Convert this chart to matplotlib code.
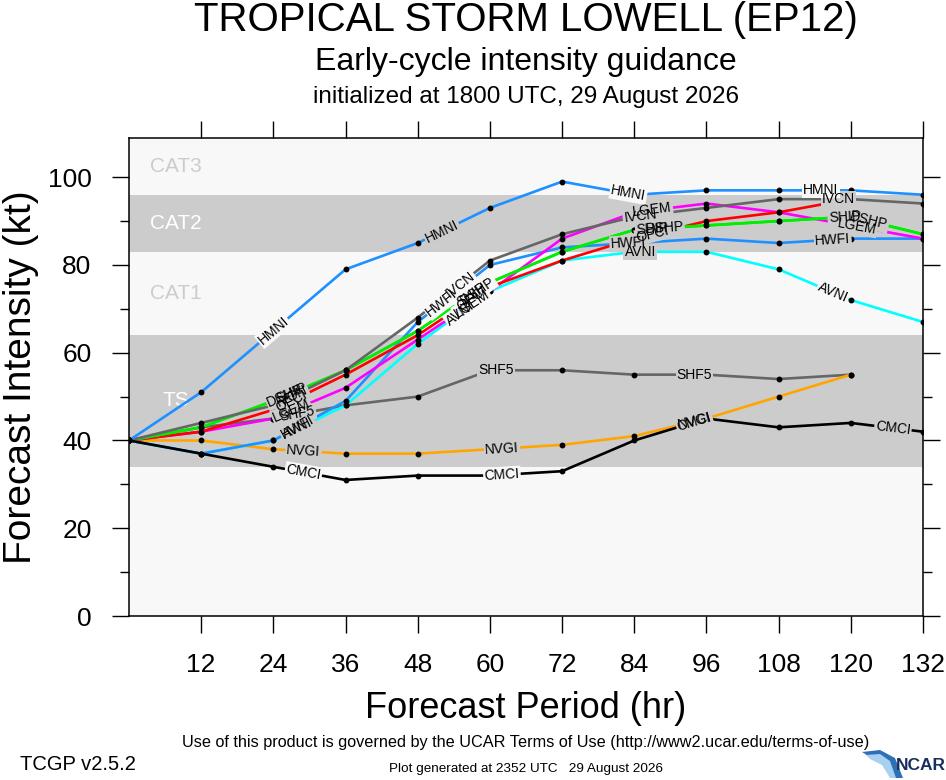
import numpy as np
import matplotlib
matplotlib.use('Agg')
import matplotlib.pyplot as plt
from matplotlib.patches import Polygon

# données (kt)
hours = [0, 12, 24, 36, 48, 60, 72, 84, 96, 108, 120, 132]
HMNI = [40, 51, 65, 79, 85, 93, 99, 96, 97, 97, 97, 96]
HWFI = [40, 37, 40, 49, 67, 80, 84, 85, 86, 85, 86, 86]
IVCN = [40, 44, 48, 56, 68, 81, 87, 91, 93, 95, 95, 94]
SHIP = [40, 43, 49, 56, 65, 76, 83, 88, 89, 90, 91, 87]
DSHP = [40, 43, 49, 56, 65, 76, 83, 88, 89, 90, 91, 87]
OFCI = [40, 42, 47, 55, 64, 75, 81, 86, 90, 92, 95, None]
LGEM = [40, 42, 45, 52, 63, 74, 86, 92, 94, 92, 89, 86]
SHF5 = [40, 43, 45, 48, 50, 56, 56, 55, 55, 54, 55, None]
AVNI = [40, 37, 40, 48, 62, 74, 81, 83, 83, 79, 72, 67]
NVGI = [40, 40, 38, 37, 37, 38, 39, 41, 45, 50, 55, None]
CMCI = [40, 37, 34, 31, 32, 32, 33, 40, 45, 43, 44, 42]

xticks = [12, 24, 36, 48, 60, 72, 84, 96, 108, 120, 132]
yticks = [0, 20, 40, 60, 80, 100]
categories = ['TS', 'CAT1', 'CAT2', 'CAT3']
cat_bounds = [34, 64, 83, 96, 113]

# style de chaque modele : (nom, valeurs, couleur, heures des etiquettes)
models = [
    ('SHF5', SHF5, '#666666', [28, 61, 94]),
    ('NVGI', NVGI, '#ffa500', [29, 62, 94]),
    ('AVNI', AVNI, '#00ffff', [28, 55, 85, 117]),
    ('HWFI', HWFI, '#1e90ff', [28, 52, 83, 117]),
    ('LGEM', LGEM, '#ff00ff', [27, 57, 87, 121]),
    ('OFCI', OFCI, '#ff0000', [27, 57, 87]),
    ('SHIP', SHIP, '#00ee00', [27, 57, 87, 119]),
    ('DSHP', DSHP, '#00ee00', [26, 58, 89, 123]),
    ('IVCN', IVCN, '#666666', [27, 55, 85, 118]),
    ('HMNI', HMNI, '#1e90ff', [24, 52, 83, 115]),
    ('CMCI', CMCI, '#000000', [29, 62, 94, 127]),
]

plt.rcParams['font.family'] = 'Liberation Sans'

LIGHT = '#f8f8f8'
DARK = '#cccccc'

fig = plt.figure(figsize=(9.46, 7.8), dpi=100)
ax = fig.add_axes([129 / 946, 1 - 616 / 780, 794 / 946, (616 - 137.7) / 780])
ax.set_xlim(0, 132)
ax.set_ylim(0, 109)
ax.set_facecolor(LIGHT)


def band_color(v):
    if 34 <= v < 64 or 83 <= v < 96:
        return DARK
    return LIGHT


# bandes des categories
for i in range(len(categories)):
    lo, hi = cat_bounds[i], cat_bounds[i + 1]
    if i % 2 == 0:
        ax.axhspan(lo, hi, color=DARK, lw=0, zorder=0)
    mid = (lo + min(hi, 109)) / 2
    col = 'white' if i % 2 == 0 else '#cccccc'
    ax.text(7.8, mid, categories[i], color=col, fontsize=15, ha='center', va='center', zorder=1)

# courbes
for name, vals, col, lab_hours in models:
    v = np.array([np.nan if x is None else x for x in vals], dtype=float)
    ok = ~np.isnan(v)
    h = np.array(hours)[ok]
    v = v[ok]
    ax.plot(h, v, color=col, lw=1.9, marker='o', ms=3.2, mfc='k', mec='k', zorder=2,
            solid_capstyle='round')
    for t in lab_hours:
        y = np.interp(t, h, v)
        k = min(np.searchsorted(h, t), len(h) - 1)
        p0 = ax.transData.transform((h[k - 1], v[k - 1]))
        p1 = ax.transData.transform((h[k], v[k]))
        ang = np.degrees(np.arctan2(p1[1] - p0[1], p1[0] - p0[0]))
        ax.text(t, y, name, fontsize=10, rotation=ang, rotation_mode='anchor',
                ha='center', va='center', color=(0, 0, 0, 0), zorder=4,
                bbox=dict(boxstyle='square,pad=0.08', fc=band_color(y), ec='none'))
        ax.text(t, y, name, fontsize=10, rotation=ang, rotation_mode='anchor',
                ha='center', va='center', color='black', zorder=5)

# axes et graduations
ax.set_xticks(xticks)
ax.set_yticks(yticks)
ax.set_yticks(np.arange(10, 110, 20), minor=True)
ax.tick_params(axis='both', which='major', direction='out', length=12, width=1,
               labelsize=19, pad=15, top=True, right=True)
ax.tick_params(axis='y', which='minor', direction='out', length=6.5, width=1, right=True)
for s in ax.spines.values():
    s.set_linewidth(1.1)

ax.set_xlabel('Forecast Period (hr)', fontsize=26, labelpad=10)
ax.set_ylabel('Forecast Intensity (kt)', fontsize=28, labelpad=6)

# titres, centres sur le cadre
xc = 526 / 946
fig.text(xc, 1 - 20 / 780, 'TROPICAL STORM LOWELL (EP12)', fontsize=29, ha='center', va='center')
fig.text(xc, 1 - 62 / 780, 'Early-cycle intensity guidance', fontsize=23, ha='center', va='center')
fig.text(xc, 1 - 97 / 780, 'initialized at 1800 UTC, 29 August 2026', fontsize=17.5,
         ha='center', va='center')

# pied de page
fig.text(xc, 1 - 742 / 780,
         'Use of this product is governed by the UCAR Terms of Use (http://www2.ucar.edu/terms-of-use)',
         fontsize=11.7, ha='center', va='center')
fig.text(20 / 946, 1 - 765 / 780, 'TCGP v2.5.2', fontsize=14.5, ha='left', va='center')
fig.text(xc, 1 - 769 / 780, 'Plot generated at 2352 UTC   29 August 2026', fontsize=9.7,
         ha='center', va='center')

# logo NCAR (simplifie)
swoosh = [(862, 752), (880, 750), (895, 758), (903, 778), (893, 778), (884, 762), (870, 757)]
fig.patches.append(Polygon([(x / 946, 1 - y / 780) for x, y in swoosh], closed=True,
                           transform=fig.transFigure, fc='#2f6fb5', ec='none'))
swoosh2 = [(866, 755), (880, 754), (890, 761), (896, 778), (890, 778), (882, 765), (870, 759)]
fig.patches.append(Polygon([(x / 946, 1 - y / 780) for x, y in swoosh2], closed=True,
                           transform=fig.transFigure, fc='#a8d0f0', ec='none'))
fig.text(921 / 946, 1 - 766 / 780, 'NCAR', fontsize=12.5, fontweight='bold', color='#1b2f5e',
         ha='center', va='center')

fig.savefig('out.png', dpi=100)
